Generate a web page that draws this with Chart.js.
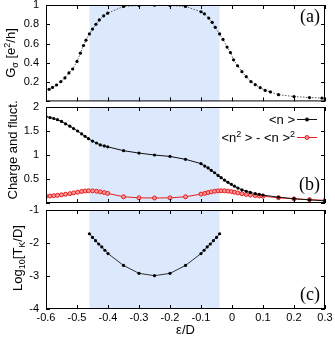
<!DOCTYPE html>
<html>
<head>
<meta charset="utf-8">
<script src="https://cdn.jsdelivr.net/npm/chart.js@4"></script>
<style>
body { margin: 0; background: #fff; overflow: hidden; width: 335px; height: 338px; position: relative; }
canvas { position: absolute; left: 0; }
</style>
</head>
<body>
<canvas id="pa" width="335" height="125" style="top:-10px"></canvas>
<canvas id="pb" width="335" height="125" style="top:92px"></canvas>
<canvas id="pc" width="335" height="144" style="top:194px"></canvas>
<script>
// x axis
const xTicks = [-0.6, -0.5, -0.4, -0.3, -0.2, -0.1, 0, 0.1, 0.2, 0.3];
const shadeRange = [-0.46, -0.04];

// (a) conductance
const xG = [-0.59, -0.579, -0.566, -0.552, -0.539, -0.526, -0.514, -0.5, -0.489, -0.479, -0.471, -0.46, -0.45, -0.439, -0.428, -0.414, -0.401,
    -0.35, -0.3, -0.25, -0.2, -0.15,
    -0.1, -0.089, -0.075, -0.064, -0.054, -0.04, -0.029, -0.016, -0.005, 0.005, 0.018, 0.032, 0.046, 0.061, 0.075, 0.091, 0.107, 0.124,
    0.15, 0.2, 0.25, 0.29, 0.3];
const gVals = [0.125, 0.145, 0.17, 0.206, 0.244, 0.295, 0.336, 0.415, 0.5, 0.58, 0.635, 0.7, 0.75, 0.8, 0.845, 0.888, 0.915,
    0.985, 0.995, 0.998, 0.995, 0.985,
    0.93, 0.908, 0.864, 0.82, 0.768, 0.7, 0.643, 0.564, 0.507, 0.431, 0.37, 0.308, 0.257, 0.206, 0.173, 0.142, 0.114, 0.098,
    0.07, 0.05, 0.04, 0.035, 0.03];

// (b) charge and fluctuations
const xN = [-0.6, -0.587, -0.575, -0.563, -0.55, -0.537, -0.523, -0.511, -0.498, -0.485, -0.474, -0.463, -0.45, -0.437, -0.425, -0.412, -0.401,
    -0.35, -0.3, -0.25, -0.2, -0.15, -0.1,
    -0.088, -0.077, -0.067, -0.056, -0.045, -0.035, -0.024, -0.013, -0.002, 0.008, 0.019, 0.032, 0.046, 0.059, 0.075, 0.088, 0.1,
    0.15, 0.2, 0.25, 0.3];
const nVals = [1.8, 1.78, 1.76, 1.735, 1.7, 1.65, 1.6, 1.55, 1.5, 1.44, 1.39, 1.34, 1.29, 1.25, 1.21, 1.19, 1.17,
    1.09, 1.04, 1.0, 0.97, 0.91, 0.82,
    0.77, 0.73, 0.68, 0.63, 0.575, 0.527, 0.475, 0.43, 0.39, 0.35, 0.31, 0.275, 0.245, 0.22, 0.195, 0.18, 0.165,
    0.12, 0.09, 0.065, 0.045];
const fluctVals = [0.14, 0.145, 0.152, 0.16, 0.17, 0.182, 0.195, 0.21, 0.225, 0.24, 0.25, 0.255, 0.252, 0.245, 0.232, 0.218, 0.2,
    0.13, 0.108, 0.104, 0.108, 0.13, 0.185,
    0.2, 0.218, 0.232, 0.245, 0.252, 0.255, 0.253, 0.247, 0.237, 0.225, 0.21, 0.195, 0.178, 0.165, 0.155, 0.147, 0.14,
    0.11, 0.085, 0.07, 0.055];

// (c) Kondo temperature
const xT = [-0.46, -0.45, -0.44, -0.43, -0.42, -0.41, -0.4, -0.35, -0.3, -0.25, -0.2, -0.15, -0.1, -0.09, -0.08, -0.07, -0.06, -0.05, -0.04];
const logTk = [-1.72, -1.83, -1.93, -2.03, -2.12, -2.22, -2.32, -2.68, -2.92, -2.99, -2.92, -2.68, -2.32, -2.22, -2.12, -2.03, -1.93, -1.83, -1.72];

const SANS = "'Liberation Sans', Arial, sans-serif";
Chart.defaults.font.family = SANS;
Chart.defaults.font.size = 11;
Chart.defaults.color = '#000';

const toXY = (xs, ys) => xs.map((x, i) => ({ x: x, y: ys[i] }));
const fmt = (v) => String(parseFloat(Number(v).toFixed(2)));

// draws text made of pieces (sub/superscripts), optionally rotated
function drawRich(ctx, segs, x, y, vertical, align) {
    let w = 0;
    segs.forEach((s) => {
        ctx.font = s.size + 'px ' + SANS;
        s.w = ctx.measureText(s.t).width;
        w += s.w;
    });
    ctx.save();
    ctx.translate(x, y);
    if (vertical) ctx.rotate(-Math.PI / 2);
    ctx.fillStyle = '#000';
    ctx.textAlign = 'left';
    ctx.textBaseline = 'alphabetic';
    let cx = align === 'right' ? -w : -w / 2;
    segs.forEach((s) => {
        ctx.font = s.size + 'px ' + SANS;
        ctx.fillText(s.t, cx, s.dy || 0);
        cx += s.w;
    });
    ctx.restore();
}

const panelPlugin = {
    id: 'panel',
    beforeDatasetsDraw(chart) {
        const { ctx, chartArea: a, scales } = chart;
        const x0 = scales.x.getPixelForValue(shadeRange[0]);
        const x1 = scales.x.getPixelForValue(shadeRange[1]);
        ctx.save();
        ctx.fillStyle = '#dce9fc';
        ctx.fillRect(x0, a.top, x1 - x0, a.bottom - a.top);
        ctx.restore();
    },
    afterDatasetsDraw(chart, args, opts) {
        const { ctx, chartArea: a, scales } = chart;
        const T = opts.top;
        ctx.save();
        ctx.strokeStyle = '#000';
        ctx.lineWidth = 1;
        ctx.strokeRect(a.left + 0.5, a.top + 0.5, a.right - a.left - 1, a.bottom - a.top - 1);
        // inward ticks on all sides
        ctx.beginPath();
        xTicks.forEach((v) => {
            const px = Math.round(scales.x.getPixelForValue(v)) + 0.5;
            ctx.moveTo(px, a.top); ctx.lineTo(px, a.top + 4);
            ctx.moveTo(px, a.bottom); ctx.lineTo(px, a.bottom - 4);
        });
        scales.y.ticks.forEach((t) => {
            const py = Math.round(scales.y.getPixelForValue(t.value)) + 0.5;
            ctx.moveTo(a.left, py); ctx.lineTo(a.left + 4, py);
            ctx.moveTo(a.right, py); ctx.lineTo(a.right - 4, py);
        });
        ctx.stroke();

        // panel letter
        ctx.font = "18px 'Liberation Serif', serif";
        ctx.fillStyle = '#000';
        ctx.textAlign = 'right';
        ctx.textBaseline = 'alphabetic';
        ctx.fillText(opts.label, a.right - 5, opts.labelY - T);

        // y title
        drawRich(ctx, opts.title, opts.titleX, opts.titleY - T, true, 'center');

        // legend of panel (b)
        if (opts.legend) {
            opts.legend.forEach((row) => {
                const y = row.y - T;
                drawRich(ctx, row.segs, 295, y + 4.5, false, 'right');
                ctx.strokeStyle = row.color;
                ctx.lineWidth = 1;
                ctx.beginPath();
                ctx.moveTo(297, y + 0.5); ctx.lineTo(317, y + 0.5);
                ctx.stroke();
                ctx.beginPath();
                ctx.arc(307, y + 0.5, row.r, 0, Math.PI * 2);
                ctx.fillStyle = row.fill;
                ctx.fill();
                ctx.strokeStyle = row.color;
                ctx.stroke();
            });
        }
        ctx.restore();
    }
};

function xScale(show) {
    const s = {
        type: 'linear',
        min: -0.6,
        max: 0.3,
        display: show,
        afterBuildTicks: (sc) => { sc.ticks = xTicks.map((v) => ({ value: v })); },
        grid: { display: false, drawTicks: false },
        border: { display: false },
        ticks: { padding: 2, autoSkip: false, maxRotation: 0, font: { size: 11 }, callback: (v) => fmt(v) },
        title: { display: true, text: 'ε/D', font: { size: 13 }, padding: 0 }
    };
    if (show) s.afterFit = (sc) => { sc.height = 29; };
    return s;
}

function yScale(min, max, step, hideZero) {
    return {
        type: 'linear',
        min: min,
        max: max,
        afterFit: (s) => { s.width = 46; },
        grid: { display: false, drawTicks: false },
        border: { display: false },
        ticks: {
            stepSize: step,
            autoSkip: false,
            padding: 7,
            font: { size: 11 },
            callback: (v) => (hideZero && v === 0 ? '' : fmt(v))
        }
    };
}

function makeChart(id, datasets, xs, ys, padding, panel) {
    return new Chart(document.getElementById(id), {
        type: 'line',
        data: { datasets: datasets },
        options: {
            responsive: false,
            animation: false,
            devicePixelRatio: 1,
            layout: { padding: padding },
            scales: { x: xs, y: ys },
            plugins: { legend: { display: false }, tooltip: { enabled: false }, panel: panel }
        },
        plugins: [panelPlugin]
    });
}

const blackDot = { pointRadius: 1.6, pointBackgroundColor: '#000', pointBorderColor: '#000', pointBorderWidth: 0, tension: 0, fill: false };

makeChart('pa', [
    Object.assign({ data: toXY(xG, gVals), borderColor: '#555', borderWidth: 1, borderDash: [1.5, 1.5] }, blackDot)
], xScale(false), yScale(0, 1, 0.2, true), { top: 15, bottom: 12, left: 0, right: 10 }, {
    top: -10, label: '(a)', labelY: 22, titleX: 14.5, titleY: 53,
    title: [{ t: 'G', size: 13 }, { t: 'σ', size: 9, dy: 3 }, { t: ' [e', size: 13 }, { t: '2', size: 9, dy: -5 }, { t: '/h]', size: 13 }]
});

makeChart('pb', [
    Object.assign({ data: toXY(xN, nVals), borderColor: '#111', borderWidth: 1 }, blackDot),
    { data: toXY(xN, fluctVals), borderColor: 'rgb(232,30,30)', borderWidth: 1, pointRadius: 2, pointBorderWidth: 1,
      pointBorderColor: 'rgb(232,30,30)', pointBackgroundColor: 'rgb(250,150,150)', tension: 0, fill: false }
], xScale(false), yScale(0, 2, 0.5, true), { top: 15, bottom: 14, left: 0, right: 10 }, {
    top: 92, label: '(b)', labelY: 190, titleX: 16.5, titleY: 150,
    title: [{ t: 'Charge and fluct.', size: 13 }],
    legend: [
        { y: 119, color: '#111', fill: '#000', r: 1.6, segs: [{ t: '<n >', size: 13 }] },
        { y: 137, color: 'rgb(232,30,30)', fill: 'rgb(250,150,150)', r: 2,
          segs: [{ t: '<n', size: 13 }, { t: '2', size: 9, dy: -5 }, { t: ' > - <n >', size: 13 }, { t: '2', size: 9, dy: -5 }] }
    ]
});

makeChart('pc', [
    Object.assign({ data: toXY(xT, logTk), borderColor: '#333', borderWidth: 1 }, blackDot)
], xScale(true), yScale(-4, -1, 1, false), { top: 16, bottom: 0, left: 0, right: 10 }, {
    top: 194, label: '(c)', labelY: 300, titleX: 22, titleY: 258,
    title: [{ t: 'Log', size: 13 }, { t: '10', size: 9, dy: 3 }, { t: '[T', size: 13 }, { t: 'K', size: 9, dy: 3 }, { t: '/D]', size: 13 }]
});
</script>
</body>
</html>
